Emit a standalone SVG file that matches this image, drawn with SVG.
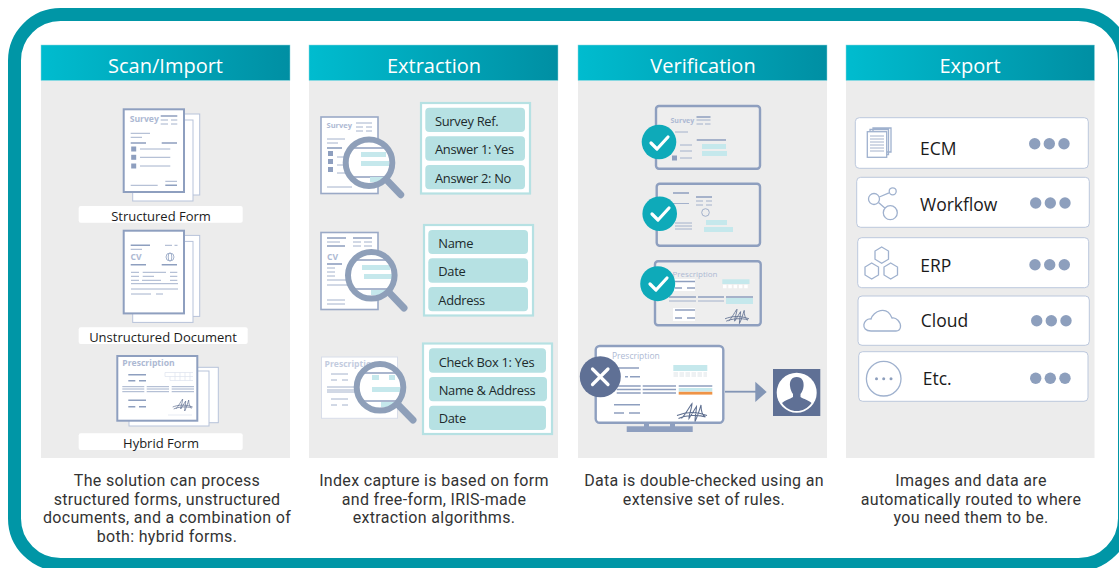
<svg xmlns="http://www.w3.org/2000/svg" xmlns:xlink="http://www.w3.org/1999/xlink" width="1119" height="568" viewBox="0 0 1119 568">
<style>
text{font-family:"Open Sans","Noto Sans",sans-serif}
.hd{font-size:20px;fill:#fff;text-anchor:middle}
.cap{font-family:Roboto,"Liberation Sans",sans-serif;font-size:16px;fill:#333;text-anchor:middle;letter-spacing:.32px}
.lb{font-size:13px;fill:#1c1c1c;text-anchor:middle}
.fd{font-size:12.900px;fill:#1c2a2c;letter-spacing:-.3px}
.ex{font-size:17.500px;fill:#1a1a1a}
.panel{fill:#ececec}
.head{stroke:#8fd6de;stroke-width:.5}
.wl{fill:#fff}
.pg1{fill:#fff;stroke:#8e9fbf;stroke-width:2}
.pg2{fill:#fff;stroke:#b7c3da;stroke-width:1}
.thin{fill:none;stroke:#9aa9c6;stroke-width:.9}
.bold{fill:none;stroke:#8e9fbf;stroke-width:1.6}
.ttl{font-weight:700;font-size:8.600px;fill:#adb9d3}
.box{fill:#fff;stroke:#b6e1e3;stroke-width:2.200}
.pill{fill:#b6e1e3}
.teal{fill:#c5e8ec}
.hnd{stroke:#8e9fb9;stroke-width:7;stroke-linecap:round;fill:none}
.card{fill:#eee;stroke:#8e9fbf;stroke-width:2.400}
.ok{fill:#0eaab9}
.ck{fill:none;stroke:#fff;stroke-width:3.200;stroke-linecap:round;stroke-linejoin:round}
.row{fill:#fff;stroke:#bcc8dd;stroke-width:1}
.dot{fill:#8d9fbd}
.ico{fill:none;stroke:#9fb1ce;stroke-width:1.300}
.sig{fill:none;stroke:#5e6f90;stroke-width:.7}
</style>
<defs>
<linearGradient id="hg" x1="0" y1="0" x2="1" y2="0"><stop offset="0" stop-color="#00bccf"/><stop offset="1" stop-color="#008fa3"/></linearGradient>
<g id="stack"><rect class="pg2" x="139" y="114" width="60.700" height="81"/><rect class="pg2" x="132.700" y="120" width="60.300" height="81"/><rect class="pg1" x="123.700" y="109.300" width="60.300" height="82.700"/></g>
<path id="sign" class="sig" d="M0 9C5 7 12 6 20 9M1 11C5 9 14 8 19 10M3 11C6 8 9 2 10 1C10 4 8 8 8 11C10 8 11 6 13 3C13 6 12 9 12 13C14 9 15 5 16 2C16 6 17 9 19 10"/>
</defs>
<rect width="1119" height="568" fill="#fff"/>
<rect id="frame" x="14.500" y="14.500" width="1110" height="550" rx="46" fill="#fff" stroke="#0096a6" stroke-width="13"/>

<g id="scan">
<rect class="panel" x="41" y="81" width="249" height="377"/>
<rect class="head" fill="url(#hg)" x="41" y="45" width="249" height="35.500"/>
<text class="hd" x="165.500" y="72.500">Scan/Import</text>
<g id="structured-form">
<use xlink:href="#stack"/>
<text class="ttl" x="129.700" y="121.500">Survey</text>
<path class="thin" d="M160.700 120H168M171 120H177.300M160.700 124H168M171 124H177.300M130.700 133.300H150M130.700 137.300H142M140 149H170.300M140 157.300H170.300M140 166H170.300M130.700 185.300H157.700M165.300 181.300H177"/>
<path class="bold" d="M160.700 116H177.300M130.700 143H146M161.700 143H177M165.300 185.300H177"/>
<rect x="131.200" y="146.500" width="5" height="5" fill="#8e9fbf"/><rect x="131.200" y="154.800" width="5" height="5" fill="#8e9fbf"/><rect x="131.200" y="163.500" width="5" height="5" fill="#8e9fbf"/>
<rect class="wl" x="78.700" y="206" width="164" height="16.700" rx="2"/>
<text class="lb" x="161" y="220.500">Structured Form</text>
</g>
<g id="unstructured-document">
<use xlink:href="#stack" y="121.400"/>
<path class="thin" d="M130.700 249.300H142M165 245.300H172M174.500 245.300H177.500M131 272.300H139M142.700 272.300H166M170 272.300H177.300M131 276.300H139M142.700 276.300H154M170 276.300H177.300M131 280.300H139M142 280.300H161M170 280.300H177.300M131 283.700H178M131 289H178M131 294H151M156 294H163"/>
<path class="bold" d="M130.700 245.300H150M130.700 264.700H146M161.700 264.700H177"/>
<text class="ttl" x="130.500" y="259.500" font-size="9">CV</text>
<circle class="thin" cx="170" cy="257" r="4"/><ellipse class="thin" cx="170" cy="257" rx="1.800" ry="4"/>
<rect class="wl" x="78.700" y="327.300" width="169" height="16.700" rx="2"/>
<text class="lb" x="163" y="342">Unstructured Document</text>
</g>
<g id="hybrid-form">
<rect class="pg2" x="138" y="367.300" width="80.300" height="55.400"/><rect class="pg2" x="129" y="371" width="80" height="55"/><rect class="pg1" x="117.300" y="356" width="80" height="64.700" stroke-width="1.500"/>
<text class="ttl" x="122.300" y="366">Prescription</text>
<path class="bold" d="M128.300 374.700H146M128.300 380.700H135.300M139 380.700H146M128.300 400.300H146M128.300 406.700H135.300M139 406.700H146"/>
<path class="thin" d="M122.300 386.700H144.300M146.700 386.700H169M171.700 386.700H194M122.300 389H144.300M146.700 389H169M171.700 389H194M122.300 391.700H144.300M146.700 391.700H169M171.700 391.700H194"/>
<path fill="none" stroke="#dde3ee" stroke-width=".7" d="M165 372.500H193M170 380.500H193M165 372.500V376.500H193M170 376.500V380.500M175 372.500V380.500M180 372.500V380.500M185 372.500V380.500M190 372.500V380.500M168 415H192"/>
<use xlink:href="#sign" x="172.700" y="398"/>
<rect class="wl" x="78.700" y="433.300" width="164" height="16.700" rx="2"/>
<text class="lb" x="161" y="447.500">Hybrid Form</text>
</g>
<text class="cap"><tspan x="167" y="486">The solution can process</tspan><tspan x="167" y="505">structured forms, unstructured</tspan><tspan x="167" y="523">documents, and a combination of</tspan><tspan x="167" y="542">both: hybrid forms.</tspan></text>
</g>

<g id="extraction">
<rect class="panel" x="309" y="81" width="249" height="377"/>
<rect class="head" fill="url(#hg)" x="309" y="45" width="249" height="35.500"/>
<text class="hd" x="434" y="72.500">Extraction</text>
<g id="ex-survey">
<rect x="321" y="117" width="57" height="76.500" fill="#fff" stroke="#9aa9c6" stroke-width="1.600"/>
<text class="ttl" x="326.500" y="128" style="font-size:7.500px">Survey</text>
<path class="thin" d="M356 123H372M356 127H363M366 127H372M356 131H363M366 131H372M327 139H345M327 143H338M337 157H352M337 165H352M337 173H352M327 187H352"/>
<path class="bold" d="M327 148H342"/>
<rect x="328" y="151" width="5" height="5" fill="#8e9fbf"/><rect x="328" y="159" width="5" height="5" fill="#8e9fbf"/><rect x="328" y="167" width="5" height="5" fill="#8e9fbf"/>
<circle fill="#fff" cx="369" cy="162.700" r="23.300"/>
<path class="bold" d="M350 148H388M350 177H388"/>
<rect class="teal" x="361" y="152" width="25" height="5"/><rect class="teal" x="361" y="161" width="28" height="5"/><rect class="teal" x="370" y="177" width="14" height="5"/>
<circle cx="369" cy="162.700" r="23.300" fill="none" stroke="#8e9fb9" stroke-width="6"/>
<path class="hnd" d="M387.300 180.700L400.700 194.700"/>
</g>
<g id="ex-survey-fields">
<rect class="box" x="421" y="103" width="109" height="90.500"/>
<rect class="pill" x="425.300" y="107.700" width="99.700" height="24.300" rx="4"/><rect class="pill" x="425.300" y="136.300" width="99.700" height="24.400" rx="4"/><rect class="pill" x="425.300" y="165" width="99.700" height="24.300" rx="4"/>
<text class="fd" x="435" y="125.500">Survey Ref.</text><text class="fd" x="435" y="154">Answer 1: Yes</text><text class="fd" x="435" y="183">Answer 2: No</text>
</g>
<g id="ex-cv">
<rect x="321" y="232.500" width="57" height="77" fill="#fff" stroke="#9aa9c6" stroke-width="1.600"/>
<path class="bold" d="M327 238H346M353 238H372M327 246H345"/>
<path class="thin" d="M327 242H340M353 242H361M364 242H372M353 246H361M364 246H372M327 268H335M327 272H335M327 276H335M327 280H350M327 285H350M327 300H345M327 304H345"/>
<text class="ttl" x="327" y="260">CV</text>
<path class="bold" d="M327 264H342"/>
<circle fill="#fff" cx="371.300" cy="275.300" r="23.300"/>
<path class="bold" d="M352 260H391M352 289H391"/>
<rect class="teal" x="362" y="265" width="28" height="5"/><rect class="teal" x="364" y="274" width="28" height="5"/><rect class="teal" x="371" y="290" width="14" height="5"/>
<circle cx="371.300" cy="275.300" r="23.300" fill="none" stroke="#8e9fb9" stroke-width="6"/>
<path class="hnd" d="M390 293.300L404 308"/>
</g>
<g id="ex-cv-fields">
<rect class="box" x="424" y="225" width="109" height="90.500"/>
<rect class="pill" x="428.300" y="230" width="99.700" height="24" rx="4"/><rect class="pill" x="428.300" y="258.300" width="99.700" height="24.400" rx="4"/><rect class="pill" x="428.300" y="287" width="99.700" height="24.300" rx="4"/>
<text class="fd" x="438.300" y="247.500">Name</text><text class="fd" x="438.300" y="276">Date</text><text class="fd" x="438.300" y="304.500">Address</text>
</g>
<g id="ex-prescription">
<rect x="321.500" y="357" width="76" height="61.300" fill="#fff" stroke="#d8dde9" stroke-width="1"/>
<text class="ttl" x="324.500" y="366.500" style="fill:#c3cce0">Prescription</text>
<path class="thin" d="M331 374H348M331 380H337M342 380H348M327 387H365M327 390H365M327 392H365M331 399H348M331 405H337M342 405H348"/>
<circle fill="#fff" cx="380" cy="387.300" r="23.300"/>
<path class="bold" d="M360 373H400M360 401H400"/>
<rect class="teal" x="372" y="375" width="23" height="5"/><rect x="379" y="375" width="10" height="5" fill="#fff"/><rect class="teal" x="372" y="387" width="28" height="5"/><rect class="teal" x="381" y="402" width="14" height="5"/>
<circle cx="380" cy="387.300" r="23.300" fill="none" stroke="#8e9fb9" stroke-width="6"/>
<path class="hnd" d="M398.300 405L413 420"/>
</g>
<g id="ex-prescription-fields">
<rect class="box" x="423" y="343.500" width="129" height="90.500"/>
<rect class="pill" x="429" y="348.300" width="117" height="24.400" rx="4"/><rect class="pill" x="429" y="377" width="118" height="24.300" rx="4"/><rect class="pill" x="429" y="405.700" width="117" height="24.300" rx="4"/>
<text class="fd" x="438.700" y="366.500">Check Box 1: Yes</text><text class="fd" x="438.700" y="395">Name &amp; Address</text><text class="fd" x="438.700" y="423">Date</text>
</g>
<text class="cap"><tspan x="434" y="486">Index capture is based on form</tspan><tspan x="434" y="505">and free-form, IRIS-made</tspan><tspan x="434" y="523">extraction algorithms.</tspan></text>
</g>

<g id="verification">
<rect class="panel" x="578" y="81" width="249" height="377"/>
<rect class="head" fill="url(#hg)" x="578" y="45" width="249" height="35.500"/>
<text class="hd" x="703" y="72.500">Verification</text>
<g id="ver-survey">
<rect class="card" x="656" y="106" width="104" height="62.700" rx="3"/>
<text class="ttl" x="670.500" y="122.500" style="font-size:7px">Survey</text>
<path class="thin" d="M696.500 120H710.500M696.500 124H703M705 124H710.500M675 132H688M680 145H692M680 151H692M680 158H692"/>
<path class="bold" d="M696.500 117H710.500M696.700 140H726"/>
<rect class="teal" x="702" y="144" width="24" height="5"/><rect class="teal" x="702" y="151" width="25" height="5"/>
<rect x="672" y="155.500" width="5" height="5" fill="#8e9fbf"/>
<circle class="ok" cx="659" cy="142" r="17.300"/><path class="ck" d="M651 143L657 149L668 137"/>
</g>
<g id="ver-cv">
<rect class="card" x="656.700" y="183.700" width="103.300" height="62" rx="3"/>
<path class="bold" d="M673 193H689M696 197H712"/>
<path class="thin" d="M673 203.500H689M696 201H703M706 201H712M696 205H703M706 205H712M675 223H692M675 226H692M675 229H692"/>
<circle class="thin" cx="705.500" cy="212.500" r="3.800"/>
<rect class="teal" x="706" y="220" width="21" height="5"/><rect class="teal" x="704" y="227" width="29" height="5"/>
<circle class="ok" cx="659.700" cy="213.700" r="17.300"/><path class="ck" d="M652 214L658 220L669 208"/>
</g>
<g id="ver-prescription">
<rect class="card" x="655" y="261.300" width="105.700" height="64" rx="3"/>
<text class="ttl" x="672.500" y="276.500" style="font-weight:400;font-size:8px">Prescription</text>
<rect x="673" y="279" width="22" height="12" fill="#fff"/><rect x="673" y="308" width="22" height="13" fill="#fff"/>
<path class="bold" d="M675 281.500H695M675 288H682M687 288H695M669 297H696M698 297H724M726 297H753M675 310H695M675 318H682M687 318H695"/>
<path class="thin" d="M669 301H696M698 301H724"/>
<rect class="teal" x="722.300" y="279.300" width="27.200" height="4.700"/><rect class="teal" x="726" y="298" width="27" height="6"/>
<path stroke="#fff" stroke-width="3.400" stroke-dasharray="3.500 1.800" d="M723 286.500H749" fill="none"/>
<use xlink:href="#sign" transform="translate(725 308) scale(1.200)"/>
<circle class="ok" cx="657.700" cy="283.700" r="17.500"/><path class="ck" d="M650 284L656 290L667 278"/>
</g>
<g id="ver-monitor">
<rect x="626.700" y="426.300" width="66" height="5.700" fill="#8e9fbf"/><path fill="#8e9fbf" d="M644 422H649V427H644zM670 422H675V427H670z"/>
<rect x="595.700" y="346" width="127.600" height="76.700" rx="4" fill="#fff" stroke="#8e9fbf" stroke-width="2.400"/>
<text class="ttl" x="612" y="359" style="font-weight:400;font-size:8.500px">Prescription</text>
<path class="bold" d="M618 368H639M625 376.700H628M630 376.700H640M616.700 386H640.700M642.700 386H676M678.700 386H712.300M616.700 389.500H640.700M642.700 389.500H676M616.700 393H640.700M642.700 393H676M614 404.700H640M614 413H624M629 413H640"/>
<rect class="teal" x="673.300" y="365" width="34" height="6"/><path stroke="#eef1f3" stroke-width="5" stroke-dasharray="4.500 1.500" d="M673.500 374.500H707" fill="none"/>
<rect class="teal" x="678.700" y="388" width="33.600" height="3.600"/><rect x="678.700" y="391.800" width="33.600" height="2.800" fill="#ef9346"/>
<use xlink:href="#sign" transform="translate(677 402) scale(1.500)"/>
<circle cx="600.300" cy="376.700" r="20.500" fill="#5f7095"/><path d="M592.500 369L608 384.500M608 369L592.500 384.500" stroke="#fff" stroke-width="3.200" stroke-linecap="round"/>
</g>
<g id="reviewer">
<rect x="773" y="369" width="47.300" height="47" fill="#5f7095"/>
<circle cx="796.700" cy="392.700" r="20" fill="#fff"/>
<path fill="#5f7095" d="M796.700 377C791.500 377 789.500 381 790 386C790.400 389.500 791.500 392 793 394V397C790 399 784.500 400.500 782 403C786 408.500 791 411 796.700 411C802.500 411 807.500 408.500 811.500 403C809 400.500 803.500 399 800.500 397V394C802 392 803.300 389.500 803.600 386C804 381 802 377 796.700 377Z"/>
</g>
<text class="cap"><tspan x="704" y="486">Data is double-checked using an</tspan><tspan x="704" y="505">extensive set of rules.</tspan></text>
</g>

<g id="connectors">
<path d="M725 391.700H757" stroke="#8295b5" stroke-width="1.800" fill="none"/>
<path d="M755.300 381.700L766.700 392L755.300 402Z" fill="#8295b5"/>
</g>

<g id="export">
<rect class="panel" x="846" y="81" width="248.500" height="377"/>
<rect class="head" fill="url(#hg)" x="846" y="45" width="248.500" height="35.500"/>
<text class="hd" x="970" y="72.500">Export</text>
<g id="ecm">
<rect class="row" x="855.300" y="117.700" width="233" height="50.600" rx="4"/>
<path class="ico" d="M873 131V128H891V152H887M870 131V129.500H888.500V154.500H887"/>
<rect class="ico" x="867.300" y="131.700" width="19.400" height="25.600" style="fill:#fff"/>
<path class="thin" d="M870 136H884M870 139H884M870 142H884M870 145H884M870 148H884M870 151H884"/>
<text class="ex" x="920" y="154.700">ECM</text>
<circle class="dot" cx="1034.700" cy="143.700" r="5.700"/><circle class="dot" cx="1049.300" cy="143.700" r="5.700"/><circle class="dot" cx="1064" cy="143.700" r="5.700"/>
</g>
<g id="workflow">
<rect class="row" x="856.700" y="177.300" width="232.600" height="50" rx="4"/>
<circle class="ico" cx="874" cy="199" r="5.500"/><circle class="ico" cx="892.700" cy="191.300" r="3.500"/><circle class="ico" cx="890.300" cy="212.700" r="7"/>
<path class="ico" d="M879.300 197L889 192.800M878.500 202.500L884.800 208"/>
<text class="ex" x="920" y="211">Workflow</text>
<circle class="dot" cx="1035.700" cy="203" r="5.700"/><circle class="dot" cx="1050.300" cy="203" r="5.700"/><circle class="dot" cx="1065" cy="203" r="5.700"/>
</g>
<g id="erp">
<rect class="row" x="857.700" y="237.700" width="231" height="50" rx="4"/>
<path class="ico" d="M881.700 247L888.500 251V259.200L881.700 263.200L875 259.200V251ZM871.700 263L878.500 267V275L871.700 279L865 275V267ZM890.700 263L897.500 267V275L890.700 279L884 275V267Z"/>
<text class="ex" x="920.300" y="272">ERP</text>
<circle class="dot" cx="1035" cy="264.700" r="5.700"/><circle class="dot" cx="1049.700" cy="264.700" r="5.700"/><circle class="dot" cx="1064.300" cy="264.700" r="5.700"/>
</g>
<g id="cloud">
<rect class="row" x="858" y="296" width="231.300" height="49.300" rx="4"/>
<path class="ico" d="M871 331C860 331 863 318 871 319C873 311 887 305 892 318C896 317 901 322 900.500 327C900 330 898 331 896 331Z"/>
<text class="ex" x="920.700" y="327.300">Cloud</text>
<circle class="dot" cx="1036.700" cy="320.700" r="5.700"/><circle class="dot" cx="1051.300" cy="320.700" r="5.700"/><circle class="dot" cx="1066" cy="320.700" r="5.700"/>
</g>
<g id="etc">
<rect class="row" x="858.700" y="351.700" width="229.300" height="49.600" rx="4"/>
<circle class="ico" cx="883.700" cy="378.700" r="17.300"/>
<circle class="dot" cx="876.500" cy="378.700" r="1.500"/><circle class="dot" cx="883.700" cy="378.700" r="1.500"/><circle class="dot" cx="891" cy="378.700" r="1.500"/>
<text class="ex" x="922.700" y="385.300">Etc.</text>
<circle class="dot" cx="1035.700" cy="378.300" r="5.700"/><circle class="dot" cx="1050.300" cy="378.300" r="5.700"/><circle class="dot" cx="1065" cy="378.300" r="5.700"/>
</g>
<text class="cap"><tspan x="971" y="486">Images and data are</tspan><tspan x="971" y="505">automatically routed to where</tspan><tspan x="971" y="523">you need them to be.</tspan></text>
</g>
</svg>
